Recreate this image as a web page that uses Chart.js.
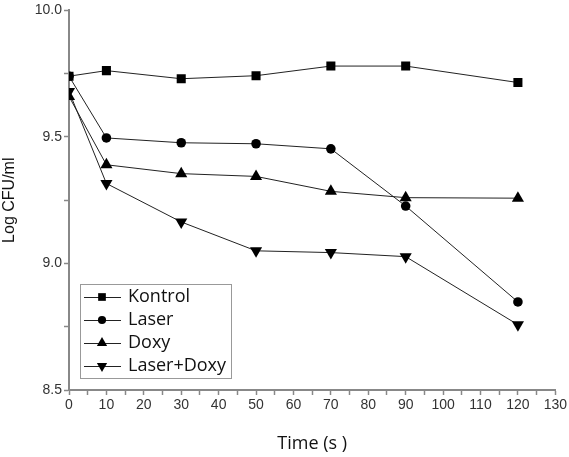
<!DOCTYPE html>
<html>
<head>
<meta charset="utf-8">
<script src="https://cdn.jsdelivr.net/npm/chart.js@4/dist/chart.umd.min.js"></script>
<style>
  html, body { margin: 0; padding: 0; background: #fff; }
  #wrap { width: 569px; height: 457px; }
</style>
</head>
<body>
<div id="wrap"><canvas id="grafik"></canvas></div>
<script>
// data
const waktu = [0, 10, 30, 50, 70, 90, 120];
const kontrol = [9.74, 9.762, 9.73, 9.742, 9.78, 9.78, 9.715];
const laser = [9.74, 9.496, 9.477, 9.473, 9.453, 9.227, 8.848];
const doxy = [9.66, 9.39, 9.355, 9.344, 9.285, 9.26, 9.258];
const laserDoxy = [9.68, 9.316, 9.164, 9.05, 9.043, 9.027, 8.758];
const namaSeri = ["Kontrol", "Laser", "Doxy", "Laser+Doxy"];
const bentuk = ["rect", "circle", "triangle", "triangle"];
const putar = [0, 0, 0, 180];
const ukuran = [6.4, 4.8, 7, 7]; // radius titik per seri

const semuaSeri = [kontrol, laser, doxy, laserDoxy];

const datasets = semuaSeri.map((nilai, i) => ({
    label: namaSeri[i],
    data: nilai.map((y, j) => ({ x: waktu[j], y: y })),
    borderColor: "#222",
    backgroundColor: "#000",
    borderWidth: 1,
    pointStyle: bentuk[i],
    rotation: putar[i],
    pointRadius: ukuran[i],
    pointBorderWidth: 0,
    pointHoverRadius: ukuran[i]
}));

// legend di dalam area grafik (kiri bawah)
const legendaDalam = {
    id: "legendaDalam",
    afterDraw(chart) {
        const ctx = chart.ctx;
        const x0 = 80, y0 = 284, w = 151, h = 94;
        ctx.save();
        ctx.strokeStyle = "#999";
        ctx.lineWidth = 1;
        ctx.strokeRect(x0 + 0.5, y0 + 0.5, w, h);
        ctx.font = "18px 'Open Sans', sans-serif";
        ctx.textBaseline = "middle";
        chart.data.datasets.forEach((ds, i) => {
            const cy = y0 + 13 + i * 23;
            ctx.strokeStyle = "#222";
            ctx.beginPath();
            ctx.moveTo(x0 + 4, cy + 0.5);
            ctx.lineTo(x0 + 41, cy + 0.5);
            ctx.stroke();
            ctx.fillStyle = "#000";
            Chart.helpers.drawPoint(ctx, {
                pointStyle: ds.pointStyle,
                rotation: ds.rotation,
                radius: ds.pointRadius * 0.85,
                borderWidth: 0
            }, x0 + 22, cy);
            ctx.fillStyle = "#111";
            ctx.fillText(ds.label, x0 + 48, cy);
        });
        ctx.restore();
    }
};

new Chart(document.getElementById("grafik"), {
    type: "line",
    data: { datasets: datasets },
    options: {
        responsive: true,
        maintainAspectRatio: false,
        animation: false,
        layout: { padding: { top: 6, right: 13, left: 0, bottom: 0 } },
        plugins: {
            legend: { display: false },
            tooltip: { enabled: false }
        },
        scales: {
            x: {
                type: "linear",
                min: 0,
                max: 130,
                afterFit(scale) { scale.height = 67; },
                border: { color: "#888", width: 2 },
                grid: { drawOnChartArea: false, tickLength: 5, tickColor: "#888", tickWidth: 1.5 },
                ticks: {
                    stepSize: 5,
                    autoSkip: false,
                    maxRotation: 0,
                    padding: 2,
                    color: "#333",
                    font: { family: "'Liberation Sans', Arial, sans-serif", size: 14 },
                    callback: v => (v % 10 === 0 ? String(v) : "")
                },
                title: {
                    display: true,
                    text: "Time (s )",
                    color: "#111",
                    font: { family: "'Open Sans', sans-serif", size: 18 },
                    padding: { top: 0, bottom: 2 }
                }
            },
            y: {
                min: 8.5,
                max: 10.0,
                afterFit(scale) { scale.width = 69; },
                border: { color: "#888", width: 2 },
                grid: { drawOnChartArea: false, tickLength: 5, tickColor: "#888", tickWidth: 1.5 },
                ticks: {
                    stepSize: 0.25,
                    autoSkip: false,
                    padding: 2,
                    color: "#333",
                    font: { family: "'Liberation Sans', Arial, sans-serif", size: 14 },
                    callback: v => (Math.abs(v * 2 - Math.round(v * 2)) < 1e-6 ? v.toFixed(1) : "")
                },
                title: {
                    display: true,
                    text: "Log CFU/ml",
                    color: "#111",
                    font: { family: "'Liberation Sans', Arial, sans-serif", size: 16 },
                    padding: { top: 0, bottom: 2 }
                }
            }
        }
    },
    plugins: [legendaDalam]
});
</script>
</body>
</html>
